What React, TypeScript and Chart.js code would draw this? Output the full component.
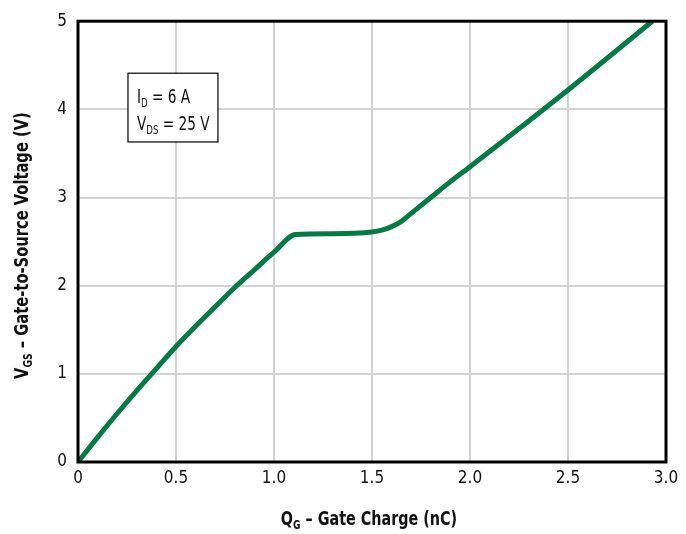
import React, { useEffect, useRef } from "react";
import { Chart, registerables } from "chart.js";

Chart.register(...registerables);

const chargeNC = [0, 0.1, 0.2, 0.3, 0.4, 0.5, 0.6, 0.7, 0.8, 0.9, 1.0, 1.11, 1.3, 1.5, 1.55, 1.6, 1.65, 1.7, 1.8, 1.9, 2.0, 2.5, 2.93];
const vgsV = [0, 0.28, 0.55, 0.81, 1.06, 1.31, 1.54, 1.76, 1.98, 2.18, 2.38, 2.58, 2.59, 2.61, 2.63, 2.67, 2.73, 2.82, 3.0, 3.18, 3.35, 4.22, 5.0];
const xTicks = [0, 0.5, 1.0, 1.5, 2.0, 2.5, 3.0];
const yTicks = [0, 1, 2, 3, 4, 5];
const noteLines = [
  { main: "I", sub: "D", rest: " = 6 A" },
  { main: "V", sub: "DS", rest: " = 25 V" },
];
const noteBox = { x0: 0.255, x1: 0.714, y0: 4.41, y1: 3.63 };

const FONT = "'DejaVu Sans Condensed', 'Liberation Sans Narrow', sans-serif";

function drawSubText(
  ctx: CanvasRenderingContext2D,
  x: number,
  y: number,
  main: string,
  sub: string,
  rest: string,
  size: number,
  weight: string,
  align: "left" | "center",
  hScale: number
) {
  const mainFont = `${weight} ${size}px ${FONT}`;
  const subFont = `${weight} ${Math.round(size * 0.62)}px ${FONT}`;
  ctx.font = mainFont;
  const wm = ctx.measureText(main).width;
  const wr = ctx.measureText(rest).width;
  ctx.font = subFont;
  const ws = ctx.measureText(sub).width;
  const total = (wm + ws + wr) * hScale;
  const start = align === "center" ? x - total / 2 : x;
  ctx.save();
  ctx.translate(start, y);
  ctx.scale(hScale, 1);
  ctx.textAlign = "left";
  ctx.textBaseline = "alphabetic";
  let sx = 0;
  ctx.font = mainFont;
  ctx.fillText(main, sx, 0);
  sx += wm;
  ctx.font = subFont;
  ctx.fillText(sub, sx, size * 0.22);
  sx += ws;
  ctx.font = mainFont;
  ctx.fillText(rest, sx, 0);
  ctx.restore();
}

const decorPlugin = {
  id: "decor",
  afterDraw(chart: any) {
    const { ctx, chartArea, scales } = chart;
    ctx.save();
    ctx.strokeStyle = "#000";
    ctx.lineWidth = 3;
    ctx.strokeRect(chartArea.left, chartArea.top, chartArea.right - chartArea.left, chartArea.bottom - chartArea.top);
    const bx0 = scales.x.getPixelForValue(noteBox.x0);
    const bx1 = scales.x.getPixelForValue(noteBox.x1);
    const by0 = scales.y.getPixelForValue(noteBox.y0);
    const by1 = scales.y.getPixelForValue(noteBox.y1);
    ctx.fillStyle = "#fff";
    ctx.fillRect(bx0, by0, bx1 - bx0, by1 - by0);
    ctx.lineWidth = 1.2;
    ctx.strokeRect(bx0, by0, bx1 - bx0, by1 - by0);
    ctx.fillStyle = "#111";
    noteLines.forEach((l, i) => {
      drawSubText(ctx, bx0 + 9, by0 + 30 + i * 27, l.main, l.sub, l.rest, 19, "normal", "left", 0.8);
    });
    const cx = (chartArea.left + chartArea.right) / 2;
    drawSubText(ctx, cx - 3, 525, "Q", "G", " – Gate Charge (nC)", 19, "bold", "center", 0.84);
    ctx.translate(28, (chartArea.top + chartArea.bottom) / 2 + 4);
    ctx.rotate(-Math.PI / 2);
    drawSubText(ctx, 0, 0, "V", "GS", " – Gate-to-Source Voltage (V)", 19, "bold", "center", 0.86);
    ctx.restore();
  },
};

export default function App() {
  const ref = useRef<HTMLCanvasElement>(null);
  useEffect(() => {
    if (!ref.current) return;
    const chart = new Chart(ref.current, {
      type: "line",
      data: {
        datasets: [
          {
            data: chargeNC.map((x, i) => ({ x, y: vgsV[i] })),
            borderColor: "#047a46",
            borderWidth: 5,
            pointRadius: 0,
            cubicInterpolationMode: "monotone",
            fill: false,
          },
        ],
      },
      options: {
        animation: false,
        responsive: false,
        maintainAspectRatio: false,
        layout: { padding: { left: 0, top: 14, right: 20, bottom: 0 } },
        plugins: { legend: { display: false }, tooltip: { enabled: false }, title: { display: false } },
        scales: {
          x: {
            type: "linear",
            min: 0,
            max: 3,
            afterBuildTicks: (axis: any) => {
              axis.ticks = xTicks.map((v) => ({ value: v }));
            },
            afterFit: (axis: any) => {
              axis.height = 72;
            },
            ticks: {
              color: "#111",
              font: { family: FONT, size: 17 },
              padding: 6,
              maxRotation: 0,
              callback: (v: any) => (v === 0 ? "0" : Number(v).toFixed(1)),
            },
            grid: { color: "#d3d3d3", lineWidth: 2, drawTicks: false },
            border: { display: false },
          },
          y: {
            type: "linear",
            min: 0,
            max: 5,
            afterBuildTicks: (axis: any) => {
              axis.ticks = yTicks.map((v) => ({ value: v }));
            },
            afterFit: (axis: any) => {
              axis.width = 78;
            },
            ticks: {
              color: "#111",
              font: { family: FONT, size: 17 },
              padding: 11,
              callback: (v: any) => String(v),
            },
            grid: { color: "#d3d3d3", lineWidth: 2, drawTicks: false },
            border: { display: false },
          },
        },
      },
      plugins: [decorPlugin],
    } as any);
    return () => chart.destroy();
  }, []);
  return (
    <div style={{ position: "absolute", left: 0, top: 0, width: 686, height: 534, background: "#fff" }}>
      <canvas ref={ref} width={686} height={534} style={{ width: 686, height: 534 }} />
    </div>
  );
}
